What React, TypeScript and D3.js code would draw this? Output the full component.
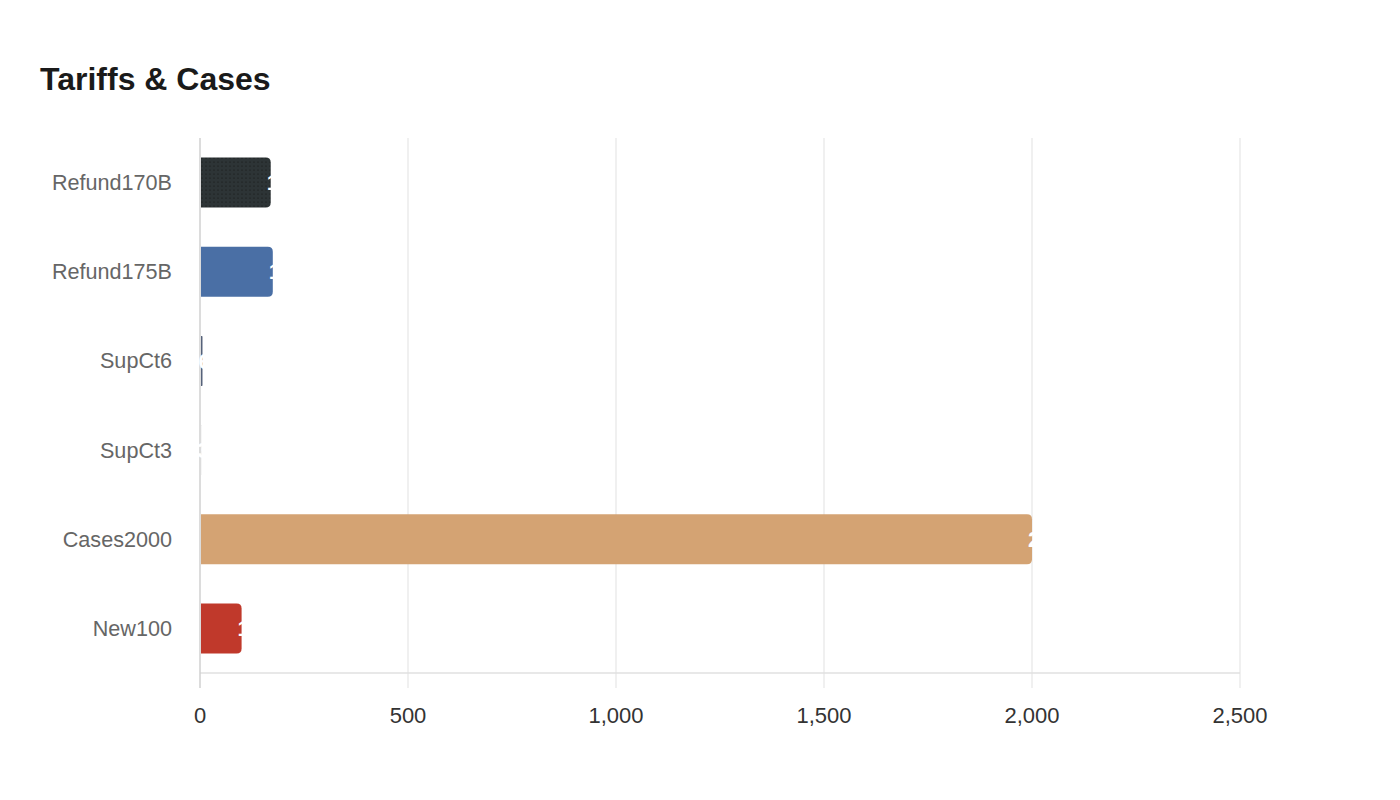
import { useEffect, useRef } from 'react';
import * as d3 from 'd3';

const categories = ['Refund170B', 'Refund175B', 'SupCt6', 'SupCt3', 'Cases2000', 'New100'];
const values = [170, 175, 6, 3, 2000, 100];
const colors = ['url(#dots)', '#4a6fa5', '#56627a', '#d9d9d9', '#d4a373', '#c0392b'];
const xTicks = [0, 500, 1000, 1500, 2000, 2500];

const W = 1400;
const H = 800;
const margin = { top: 138, right: 160, bottom: 127, left: 200 };

// bar path: square on the left, rounded on the right
function barPath(x0: number, x1: number, y: number, h: number, r: number) {
  const rr = Math.min(r, (x1 - x0) / 2, h / 2);
  return `M${x0},${y}H${x1 - rr}Q${x1},${y} ${x1},${y + rr}V${y + h - rr}Q${x1},${y + h} ${x1 - rr},${y + h}H${x0}Z`;
}

export default function App() {
  const svgRef = useRef<SVGSVGElement>(null);

  useEffect(() => {
    if (!svgRef.current) return;
    const svg = d3.select(svgRef.current);
    svg.selectAll('*').remove();

    const defs = svg.append('defs');
    const pat = defs.append('pattern')
      .attr('id', 'dots')
      .attr('width', 4)
      .attr('height', 4)
      .attr('patternUnits', 'userSpaceOnUse');
    pat.append('rect').attr('width', 4).attr('height', 4).attr('fill', '#2d3436');
    pat.append('circle').attr('cx', 2).attr('cy', 2).attr('r', 0.6).attr('fill', '#111');

    const x = d3.scaleLinear().domain([0, 2500]).range([margin.left, W - margin.right]);
    const y = d3.scaleBand<string>()
      .domain(categories)
      .range([margin.top, H - margin.bottom])
      .paddingInner(0.44)
      .paddingOuter(0.22);

    svg.append('text')
      .attr('x', 40)
      .attr('y', 90)
      .attr('font-size', 32)
      .attr('font-weight', 'bold')
      .attr('fill', '#1a1a1a')
      .text('Tariffs & Cases');

    // grid lines (extend below the axis as ticks)
    svg.append('g')
      .selectAll('line')
      .data(xTicks.slice(1))
      .join('line')
      .attr('x1', (d) => x(d))
      .attr('x2', (d) => x(d))
      .attr('y1', margin.top)
      .attr('y2', H - margin.bottom + 15)
      .attr('stroke', '#ebebeb')
      .attr('stroke-width', 1.5);

    svg.append('line')
      .attr('x1', margin.left)
      .attr('x2', W - margin.right)
      .attr('y1', H - margin.bottom)
      .attr('y2', H - margin.bottom)
      .attr('stroke', '#e0e0e0')
      .attr('stroke-width', 1.5);

    svg.append('line')
      .attr('x1', margin.left)
      .attr('x2', margin.left)
      .attr('y1', margin.top)
      .attr('y2', H - margin.bottom + 15)
      .attr('stroke', '#d0d0d0')
      .attr('stroke-width', 1.5);

    svg.append('g')
      .selectAll('text')
      .data(xTicks)
      .join('text')
      .attr('x', (d) => x(d))
      .attr('y', 723)
      .attr('text-anchor', 'middle')
      .attr('font-size', 22)
      .attr('fill', '#333')
      .text((d) => d3.format(',')(d));

    svg.append('g')
      .selectAll('text')
      .data(categories)
      .join('text')
      .attr('x', 172)
      .attr('y', (d) => (y(d) ?? 0) + y.bandwidth() / 2)
      .attr('dy', '0.35em')
      .attr('text-anchor', 'end')
      .attr('font-size', 21.6)
      .attr('fill', '#666')
      .text((d) => d);

    const data = categories.map((c, i) => ({ c, v: values[i], color: colors[i] }));

    svg.append('g')
      .selectAll('path')
      .data(data)
      .join('path')
      .attr('d', (d) => barPath(x(0) + 1, x(d.v), y(d.c) ?? 0, y.bandwidth(), 5))
      .attr('fill', (d) => d.color);

    svg.append('g')
      .selectAll('text')
      .data(data)
      .join('text')
      .attr('x', (d) => x(d.v) - 4)
      .attr('y', (d) => (y(d.c) ?? 0) + y.bandwidth() / 2)
      .attr('dy', '0.35em')
      .attr('font-size', 22)
      .attr('font-weight', 'bold')
      .attr('fill', '#fff')
      .text((d) => d.v);
  }, []);

  return (
    <svg
      ref={svgRef}
      width={W}
      height={H}
      style={{ fontFamily: '"Liberation Sans", Arial, sans-serif', display: 'block', margin: -8 }}
    />
  );
}
